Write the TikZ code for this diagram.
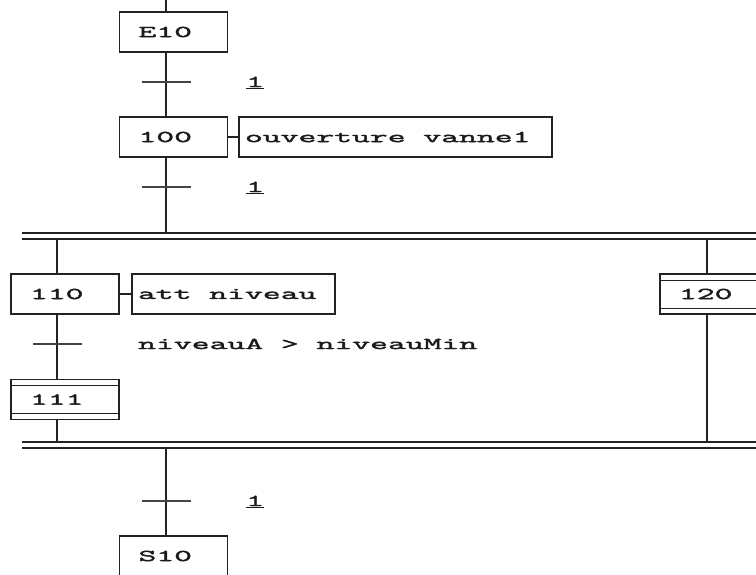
\documentclass[tikz,border=0pt]{standalone}
\usepackage{fontspec}
\newfontfamily\grafcetfont[FakeStretch=2.1,FakeBold=2.5]{Latin Modern Mono}
\definecolor{Trait}{HTML}{222222}
\definecolor{Recep}{HTML}{444444}
\definecolor{Texte}{HTML}{1A1A1A}

\tikzset{
  etape/.style={draw=Trait, line width=1.4pt, rectangle, minimum height=40pt,
    text width=70pt, inner xsep=19pt, inner ysep=0pt, align=flush left, text=Texte,
    font=\grafcetfont\fontsize{16.5}{18}\selectfont},
  etapemacro/.style={etape, path picture={
      \draw[Trait, line width=1pt] ([yshift=-6pt]path picture bounding box.north west) -- ([yshift=-6pt]path picture bounding box.north east);
      \draw[Trait, line width=1pt] ([yshift=6pt]path picture bounding box.south west) -- ([yshift=6pt]path picture bounding box.south east);}},
  action/.style={draw=Trait, line width=1.4pt, rectangle, minimum height=40pt,
    inner xsep=6pt, inner ysep=0pt, align=flush left, text=Texte,
    font=\grafcetfont\fontsize{16.5}{18}\selectfont},
  recept/.style={anchor=base west, inner sep=0pt, text=Texte,
    font=\grafcetfont\fontsize{16.5}{18}\selectfont},
  lien/.style={draw=Trait, line width=1.4pt},
  barre/.style={draw=Trait, line width=1.3pt},
  tick/.style={draw=Recep, line width=1.2pt}
}

\begin{document}
\begin{tikzpicture}[x=1pt, y=-1pt]

 \useasboundingbox (0,0) rectangle (756,574);
 \clip (0,0) rectangle (756,574);

 %%%%%%%%%% Points pour travailler %%%%%%%%%%
 \coordinate (depart) at (166,0);
 \coordinate (bg) at (57,0);
 \coordinate (bd) at (707,0);
 \coordinate (t1) at (166,82);
 \coordinate (t2) at (166,187);
 \coordinate (t3) at (57,344);
 \coordinate (t4) at (166,501);
 \coordinate (div1g) at (22,233);
 \coordinate (div1d) at (756,233);
 \coordinate (div2g) at (22,239);
 \coordinate (div2d) at (756,239);
 \coordinate (conv1g) at (22,442);
 \coordinate (conv1d) at (756,442);
 \coordinate (conv2g) at (22,448);
 \coordinate (conv2d) at (756,448);

 %%%%%%%%%% Etapes %%%%%%%%%%
 \node[etape] (e10) at (173.5,32) {E10};
 \node[etape] (s100) at (173.5,137) {100};
 \node[etape] (s110) at (65,294) {110};
 \node[etapemacro] (s111) at (65,399.5) {111};
 \node[etapemacro] (s120) at (714,294) {120};
 \node[etape] (s10) at (173.5,556) {S10};

 %%%%%%%%%% Actions %%%%%%%%%%
 \node[action, text width=301pt] (a100) at (395.5,137) {ouverture vanne1};
 \node[action, text width=191pt] (a110) at (233.5,294) {att niveau};
 \draw[lien] (s100.east) -- (a100.west);
 \draw[lien] (s110.east) -- (a110.west);

 %%%%%%%%%% Liaisons %%%%%%%%%%
 \draw[lien] (depart) -- (e10.north -| depart);
 \draw[lien] (e10.south -| depart) -- (s100.north -| depart);
 \draw[lien] (s100.south -| depart) -- (div1g -| depart);
 \draw[lien] (div2g -| bg) -- (s110.north -| bg);
 \draw[lien] (s110.south -| bg) -- (s111.north -| bg);
 \draw[lien] (s111.south -| bg) -- (conv1g -| bg);
 \draw[lien] (div2g -| bd) -- (s120.north -| bd);
 \draw[lien] (s120.south -| bd) -- (conv1g -| bd);
 \draw[lien] (conv2g -| depart) -- (s10.north -| depart);

 %%%%%%%%%% Divergence / convergence ET %%%%%%%%%%
 \draw[barre] (div1g) -- (div1d);
 \draw[barre] (div2g) -- (div2d);
 \draw[barre] (conv1g) -- (conv1d);
 \draw[barre] (conv2g) -- (conv2d);

 %%%%%%%%%% Transitions %%%%%%%%%%
 \foreach \t in {t1,t2,t3,t4}
 {
   \draw[tick] ([xshift=-24pt]\t) -- ([xshift=25pt]\t);
 }

 \node[recept] (r1) at (246,87) {\underline{1}};
 \node[recept] (r2) at (246,192) {\underline{1}};
 \node[recept] (r3) at (138,349) {niveauA > niveauMin};
 \node[recept] (r4) at (246,506) {\underline{1}};

\end{tikzpicture}
\end{document}
